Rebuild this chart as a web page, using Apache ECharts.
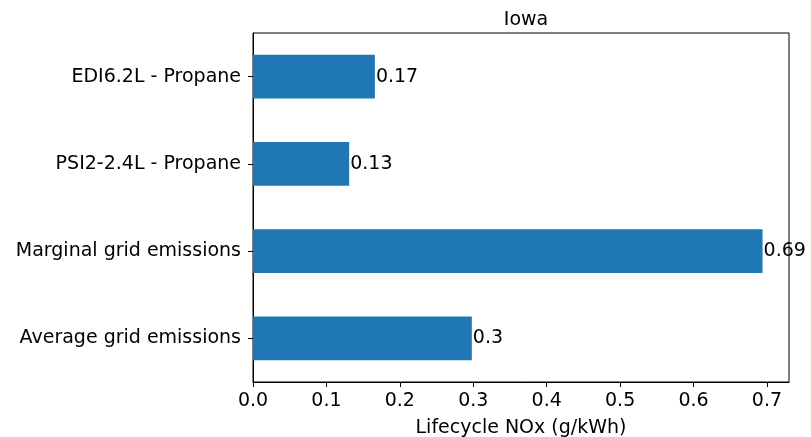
<!DOCTYPE html>
<html>
<head>
<meta charset="utf-8">
<script src="https://cdn.jsdelivr.net/npm/echarts@6/dist/echarts.min.js"></script>
<style>
  html, body { margin: 0; padding: 0; background: #fff; }
  #chart { width: 811px; height: 437px; }
</style>
</head>
<body>
<div id="chart"></div>
<script>
// top to bottom
var categories = ['EDI6.2L - Propane', 'PSI2-2.4L - Propane', 'Marginal grid emissions', 'Average grid emissions'];
var noxValues = [0.166, 0.131, 0.694, 0.298];
var xTicks = [0, 0.1, 0.2, 0.3, 0.4, 0.5, 0.6, 0.7];

var chart = echarts.init(document.getElementById('chart'));

var font = 'DejaVu Sans';
var fs = 19;

var option = {
    animation: false,
    backgroundColor: '#fff',
    title: {
        text: 'Iowa',
        left: 521,
        top: 6,
        textAlign: 'center',
        textStyle: { fontFamily: font, fontSize: fs, fontWeight: 'normal', color: '#000' }
    },
    grid: {
        left: 253,
        right: 22,
        top: 33,
        bottom: 55,
        outerBoundsMode: 'none',
        containLabel: false,
        show: true,
        borderColor: '#000',
        borderWidth: 1,
        backgroundColor: 'transparent'
    },
    xAxis: {
        type: 'value',
        min: 0,
        max: 0.73,
        interval: 0.1,
        name: 'Lifecycle NOx (g/kWh)',
        nameLocation: 'middle',
        nameGap: 37,
        nameTextStyle: { fontFamily: font, fontSize: fs, color: '#000' },
        axisLine: { show: true, lineStyle: { color: '#000' } },
        axisTick: { show: true, length: 5, lineStyle: { color: '#000' } },
        axisLabel: {
            fontFamily: font, fontSize: fs, color: '#000', margin: 10,
            showMaxLabel: false,
            formatter: function (v) {
                return xTicks.indexOf(Math.round(v * 10) / 10) >= 0 ? v.toFixed(1) : '';
            }
        },
        splitLine: { show: false }
    },
    yAxis: {
        type: 'category',
        inverse: true,
        data: categories,
        axisLine: { show: true, lineStyle: { color: '#000' } },
        axisTick: { show: true, length: 5, alignWithLabel: true, lineStyle: { color: '#000' } },
        axisLabel: { fontFamily: font, fontSize: fs, color: '#000', margin: 12 }
    },
    series: [{
        type: 'bar',
        data: noxValues,
        barCategoryGap: '50%',
        itemStyle: { color: '#1f77b4' },
        label: {
            show: true,
            position: 'right',
            distance: 1,
            fontFamily: font,
            fontSize: fs,
            color: '#000',
            formatter: function (p) {
                return String(Math.round(p.value * 100) / 100);
            }
        }
    }]
};

chart.setOption(option);
</script>
</body>
</html>
